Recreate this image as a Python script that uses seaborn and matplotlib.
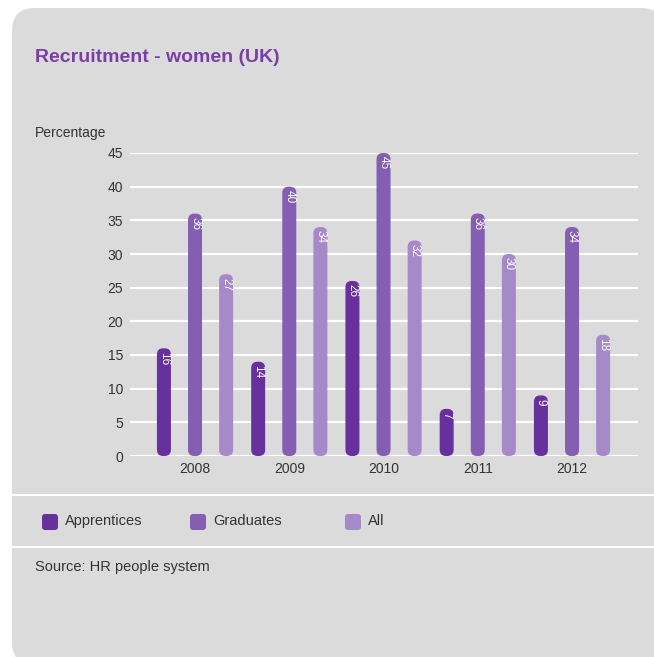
import matplotlib
matplotlib.use("Agg")
import matplotlib.pyplot as plt
from matplotlib.patches import FancyBboxPatch
import seaborn as sns
import pandas as pd

years = ["2008", "2009", "2010", "2011", "2012"]
series = ["Apprentices", "Graduates", "All"]
apprentices = [16, 14, 26, 7, 9]
graduates = [36, 40, 45, 36, 34]
all_staff = [27, 34, 32, 30, 18]
yticks = [0, 5, 10, 15, 20, 25, 30, 35, 40, 45]

colors = ["#66319c", "#855db3", "#a689c8"]
panel_bg = "#dbdbdb"
text_col = "#333333"
title_col = "#7a3fa6"

df = pd.DataFrame({
    "Year": years * 3,
    "Series": [s for s in series for _ in years],
    "Value": apprentices + graduates + all_staff,
})

sns.set_theme(style="white")
plt.rcParams["font.family"] = ["Liberation Sans", "DejaVu Sans"]

W, H = 654, 657
fig = plt.figure(figsize=(W / 100, H / 100), dpi=100)
fig.patch.set_facecolor("white")

# rounded grey card behind everything
card = FancyBboxPatch((12 / W, -8 / H), (W + 10 - 12) / W, (H + 8 - 8) / H,
                      boxstyle="round,pad=0,rounding_size=0.035",
                      transform=fig.transFigure, facecolor=panel_bg,
                      edgecolor="none", zorder=-10)
fig.patches.append(card)

# axes placement in pixels
left, right, top, bottom = 130, 638, 153, 456
ax = fig.add_axes([left / W, 1 - bottom / H, (right - left) / W, (bottom - top) / H])
ax.set_facecolor("none")
ax.set_zorder(2)

sns.barplot(data=df, x="Year", y="Value", hue="Series", palette=colors,
            order=years, hue_order=series, width=0.99, gap=0.55,
            ax=ax, legend=False, saturation=1, zorder=3)

ax.set_ylim(0, 45)
ax.set_xlim(-0.69, 4.70)
ax.set_yticks(yticks)
for y in yticks:
    ax.axhline(y, color="white", lw=1.6, zorder=1)
for s in ax.spines.values():
    s.set_visible(False)
ax.set_xlabel("")
ax.set_ylabel("")
ax.tick_params(axis="both", length=0, labelsize=10, colors=text_col)
ax.tick_params(axis="y", pad=5)
ax.tick_params(axis="x", pad=4)

# replace rectangles with rounded bars and add value labels
px_per_unit_y = (bottom - top) / 45
px_per_unit_x = (right - left) / (4.70 + 0.69)
for bar in list(ax.patches):
    x0, w = bar.get_x(), bar.get_width()
    h = bar.get_height()
    fc = bar.get_facecolor()
    bar.set_visible(False)
    r = w * 0.45
    rp = FancyBboxPatch((x0, 0), w, h,
                        boxstyle=f"round,pad=0,rounding_size={r}",
                        mutation_aspect=px_per_unit_x / px_per_unit_y,
                        facecolor=fc, edgecolor="none", zorder=3)
    ax.add_patch(rp)
    ax.text(x0 + w / 2, h - 0.5, f"{int(round(h))}", rotation=-90,
            ha="center", va="top", color="white", fontsize=8.5, zorder=4)

# title and axis caption
fig.text(35 / W, 1 - 58 / H, "Recruitment - women (UK)", color=title_col,
         fontsize=14, fontweight="bold", va="center", ha="left")
fig.text(35 / W, 1 - 133 / H, "Percentage", color=text_col, fontsize=10,
         va="center", ha="left")

# separators around the legend
for yy in (495, 547):
    fig.add_artist(plt.Line2D([12 / W, 1], [1 - yy / H, 1 - yy / H],
                              color="white", lw=1.5, transform=fig.transFigure))

# legend row
legend_x = [42, 190, 345]
for name, c, lx in zip(series, colors, legend_x):
    sq = FancyBboxPatch((lx / W, 1 - 530 / H), 16 / W, 16 / H,
                        boxstyle="round,pad=0,rounding_size=0.005",
                        transform=fig.transFigure, facecolor=c, edgecolor="none")
    fig.patches.append(sq)
    fig.text((lx + 23) / W, 1 - 521 / H, name, color=text_col, fontsize=10.5,
             va="center", ha="left")

fig.text(35 / W, 1 - 567 / H, "Source: HR people system", color=text_col,
         fontsize=10.5, va="center", ha="left")

fig.savefig("out.png", dpi=100, facecolor=fig.get_facecolor())
